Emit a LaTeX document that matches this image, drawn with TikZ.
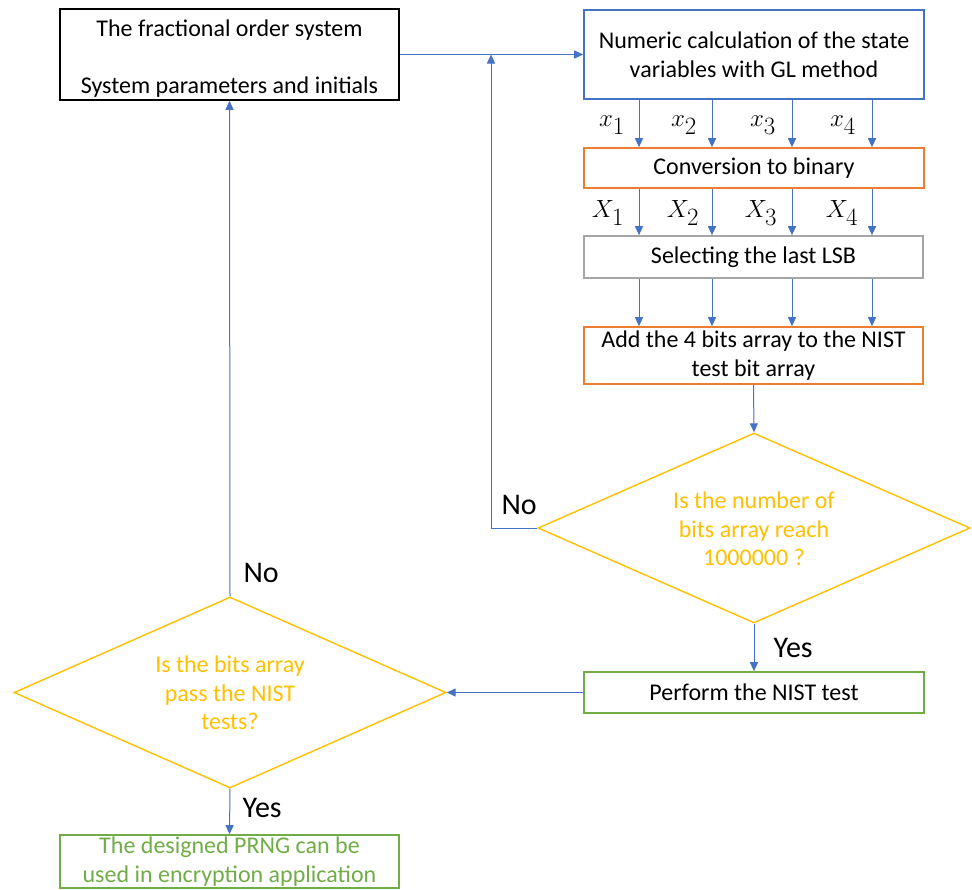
\documentclass[tikz,border=0pt]{standalone}
\usepackage{fontspec}
\setmainfont{Carlito}
\usetikzlibrary{shapes.geometric,arrows.meta,calc}
\definecolor{cblue}{HTML}{4472C4}
\definecolor{corange}{HTML}{ED7D31}
\definecolor{cgray}{HTML}{A5A5A5}
\definecolor{cyellow}{HTML}{FFC000}
\definecolor{cgreen}{HTML}{70AD47}
\tikzset{
  box/.style={draw, line width=1.6pt, rectangle, inner sep=0pt, align=center, font=\fontsize{24}{29}\selectfont},
  dia/.style={draw=cyellow, line width=1.4pt, diamond, inner sep=0pt},
  diatext/.style={align=center, text=cyellow, font=\fontsize{24}{28.5}\selectfont},
  arr/.style={draw=cblue, line width=1pt, -{Triangle[length=9pt,width=8pt]}},
  var/.style={font=\fontsize{33}{36}\selectfont},
  yn/.style={font=\fontsize{30}{34}\selectfont, anchor=west},
}
\begin{document}
\begin{tikzpicture}[x=1pt,y=-1pt]
\useasboundingbox (0,0) rectangle (972,889);
% boxes
\node[box, draw=black, minimum width=339pt, minimum height=91pt] (A) at (229.5,54.5) {\rule{0pt}{24pt}The fractional order system\\[28pt]System parameters and initials};
\node[box, draw=cblue, minimum width=340pt, minimum height=89pt] (B) at (754,54.5) {Numeric calculation of the state\\variables with GL method};
\node[box, draw=corange, minimum width=340pt, minimum height=40pt] (C) at (754,168) {Conversion to binary};
\node[box, draw=cgray, minimum width=339pt, minimum height=42pt] (S) at (753.5,257) {Selecting the last LSB};
\node[box, draw=corange, minimum width=339pt, minimum height=57pt] (D) at (753.5,355.5) {Add the 4 bits array to the NIST\\test bit array};
\node[dia, minimum width=432pt, minimum height=190pt] (Q1) at (754,528) {};
\node[diatext] (Q1t) at (754,529) {Is the number of\\bits array reach\\1000000 ?};
\node[box, draw=cgreen, minimum width=340pt, minimum height=41pt] (N) at (754,692.5) {Perform the NIST test};
\node[dia, minimum width=432pt, minimum height=191pt] (Q2) at (230,692.5) {};
\node[diatext] (Q2t) at (230,693) {Is the bits array\\pass the NIST\\tests?};
\node[box, draw=cgreen, text=cgreen, minimum width=339pt, minimum height=53pt] (F) at (229.5,861.5) {The designed PRNG can be\\used in encryption application};
% column coordinates
\coordinate (c1) at (639,0);
\coordinate (c2) at (712,0);
\coordinate (c3) at (792,0);
\coordinate (c4) at (872,0);
\coordinate (turn) at (491,528);
% connectors
\draw[arr] (A) -- (B);
\foreach \c in {c1,c2,c3,c4}{
  \draw[arr] (B.south -| \c) -- (C.north -| \c);
  \draw[arr] (C.south -| \c) -- (S.north -| \c);
  \draw[arr] (S.south -| \c) -- (D.north -| \c);
}
\draw[arr] (D.south) -- (Q1.north);
\draw[arr] (Q1.south) -- (N.north);
\draw[arr] (Q1.west) -- (turn) -- (turn |- A.east);
\draw[arr] (N.west) -- (Q2.east);
\draw[arr] (Q2.north) -- (A.south);
\draw[arr] (Q2.south) -- (F.north);
% labels
\node[var] (x1) at (612,125) {$x_1$};
\node[var] (x2) at (684,125) {$x_2$};
\node[var] (x3) at (763,125) {$x_3$};
\node[var] (x4) at (843,125) {$x_4$};
\node[var] (X1) at (608,213) {$X_1$};
\node[var] (X2) at (683,213) {$X_2$};
\node[var] (X3) at (761,213) {$X_3$};
\node[var] (X4) at (842,213) {$X_4$};
\node[yn] (no1) at (498,505) {No};
\node[yn] (yes1) at (770,648) {Yes};
\node[yn] (no2) at (240,573) {No};
\node[yn] (yes2) at (239,808) {Yes};
\end{tikzpicture}
\end{document}
